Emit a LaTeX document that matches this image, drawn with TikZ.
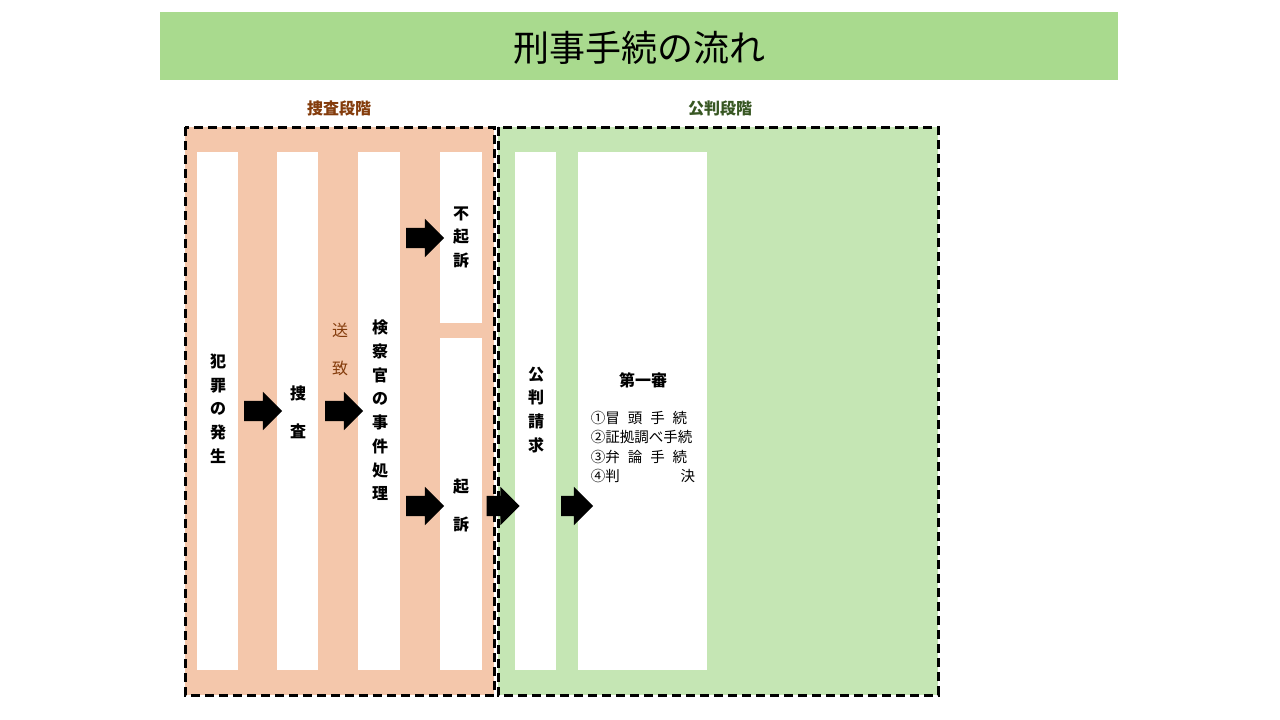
\documentclass[tikz,border=0pt]{standalone}
\usepackage{fontspec}
\setmainfont{Noto Sans CJK JP}
\usetikzlibrary{shapes.arrows}
\definecolor{titlegreen}{HTML}{A9DA8E}
\definecolor{sousaorange}{HTML}{F4C7AB}
\definecolor{kouhangreen}{HTML}{C5E6B4}
\definecolor{sousabrown}{HTML}{843C0C}
\definecolor{kouhandark}{HTML}{385723}
\newcommand{\tate}[2][1.25]{\def\arraystretch{#1}\begin{tabular}{@{}c@{}}#2\end{tabular}}

\begin{document}
\begin{tikzpicture}[x=1pt,y=-1pt,
    column/.style={fill=white,draw=none,anchor=north west,inner sep=0pt},
    label/.style={font=\bfseries\fontsize{16}{19}\selectfont,align=center},
    bigarrow/.style={single arrow,fill=black,draw=none,inner sep=10pt,
        minimum height=38pt,single arrow head extend=9pt,single arrow head indent=0pt}]
    \useasboundingbox (0,0) rectangle (1280,720);
    \fill[white] (0,0) rectangle (1280,720);

    % title
    \fill[titlegreen] (160,12) rectangle (1118,80);
    \node (title) at (639,48) {\fontsize{36}{40}\selectfont 刑事手続の流れ};

    % phases
    \fill[sousaorange] (185,127) rectangle (494,695);
    \fill[kouhangreen] (498,127) rectangle (938,695);
    \draw[line width=3pt,dash pattern=on 9pt off 5pt] (185,127) rectangle (494,695);
    \draw[line width=3pt,dash pattern=on 9pt off 5pt] (498,127) rectangle (938,695);
    \node[label,text=sousabrown] (sousa) at (339,108) {捜査段階};
    \node[label,text=kouhandark] (kouhan) at (720,108) {公判段階};

    % columns
    \foreach \name/\x/\w/\ya/\yb in {hassei/197/41/152/670, sousacol/277/41/152/670,
        shori/358/42/152/670, fukiso/440/42/152/323, kiso/440/42/338/670,
        seikyu/515/41/152/670, shinri/578/129/152/670}{
        \pgfmathsetmacro\h{\yb-\ya}
        \node[column,minimum width=\w pt,minimum height=\h pt] (\name) at (\x,\ya) {};
    }

    % texts
    \node[label] at (218,410) {\tate{犯\\罪\\の\\発\\生}};
    \node[label] at (298,411) {\tate[2.0]{捜\\査}};
    \node[text=sousabrown,font=\fontsize{16}{19}\selectfont] at (340,348) {\tate[2.0]{送\\致}};
    \node[label] at (380,412) {\tate{検\\察\\官\\の\\事\\件\\処\\理}};
    \node[label] at (461,238) {\tate{不\\起\\訴}};
    \node[label] at (461,504) {\tate[2.0]{起\\訴}};
    \node[label] at (536,411) {\tate{公\\判\\請\\求}};
    \node[label] at (643,380) {第一審};
    \node[font=\fontsize{14.5}{19.5}\selectfont,align=left] at (643,447)
        {①冒\hspace{0.55em}頭\hspace{0.55em}手\hspace{0.55em}続\\②証拠調べ手続\\③弁\hspace{0.55em}論\hspace{0.55em}手\hspace{0.55em}続\\④判\hspace{4.2em}決};

    % arrows
    \node[bigarrow] (a1) at (258,411) {};
    \node[bigarrow] (a2) at (339,411) {};
    \node[bigarrow] (a3) at (420,238) {};
    \node[bigarrow] (a4) at (420,506) {};
    \node[bigarrow,minimum height=33pt] (a5) at (498,506) {};
    \node[bigarrow,minimum height=32pt] (a6) at (572,506) {};
\end{tikzpicture}
\end{document}
